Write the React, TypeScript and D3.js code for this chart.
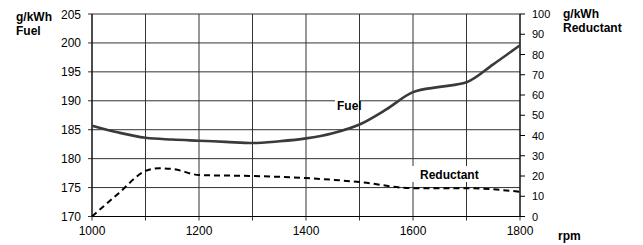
import React from "react";
import * as d3 from "d3";

const rpm = [1000, 1050, 1100, 1150, 1200, 1250, 1300, 1350, 1400, 1450, 1500, 1550, 1600, 1650, 1700, 1750, 1800];
const fuel = [185.7, 184.5, 183.6, 183.3, 183.1, 182.9, 182.7, 183.0, 183.5, 184.4, 185.9, 188.5, 191.5, 192.4, 193.2, 196.3, 199.6];
const redRpm = [1000, 1050, 1100, 1125, 1150, 1200, 1300, 1400, 1500, 1600, 1700, 1800];
const reductant = [0, 11.5, 22.5, 23.8, 23.5, 20.5, 20, 19, 17, 14, 14, 12.2];
const xTicks = [1000, 1200, 1400, 1600, 1800];
const xGrid = [1000, 1100, 1200, 1300, 1400, 1500, 1600, 1700, 1800];
const leftTicks = [170, 175, 180, 185, 190, 195, 200, 205];
const rightTicks = [0, 10, 20, 30, 40, 50, 60, 70, 80, 90, 100];

export default function App() {
  const x = d3.scaleLinear().domain([1000, 1800]).range([92, 520]);
  const yL = d3.scaleLinear().domain([170, 205]).range([216.5, 14]);
  const yR = d3.scaleLinear().domain([0, 100]).range([216.5, 14]);
  const fuelLine = d3
    .line<number>()
    .x((_, i) => x(rpm[i]))
    .y((d) => yL(d))
    .curve(d3.curveMonotoneX);
  const redLine = d3
    .line<number>()
    .x((_, i) => x(redRpm[i]))
    .y((d) => yR(d))
    .curve(d3.curveMonotoneX);
  const font = "Arial, 'Liberation Sans', sans-serif";
  return (
    <svg width={643} height={245} style={{ position: "absolute", left: 0, top: 0, fontFamily: font }}>
      <rect width={643} height={245} fill="#fff" />
      {leftTicks.map((t) => (
        <line key={"h" + t} x1={88} x2={520} y1={yL(t)} y2={yL(t)} stroke="#333" strokeWidth={1} />
      ))}
      {xGrid.map((t) => (
        <line key={"v" + t} x1={x(t)} x2={x(t)} y1={14} y2={220.5} stroke="#333" strokeWidth={1} />
      ))}
      {rightTicks.map((t) => (
        <line key={"r" + t} x1={520} x2={525} y1={yR(t)} y2={yR(t)} stroke="#000" strokeWidth={1} />
      ))}
      <line x1={92} x2={92} y1={14} y2={216.5} stroke="#000" />
      <line x1={520} x2={520} y1={14} y2={216.5} stroke="#000" />
      <line x1={92} x2={520} y1={216.5} y2={216.5} stroke="#000" />
      {leftTicks.map((t) => (
        <text key={"lt" + t} x={81} y={yL(t) + 4.5} textAnchor="end" fontSize={12} fill="#000">
          {t}
        </text>
      ))}
      {rightTicks.map((t) => (
        <text key={"rt" + t} x={532} y={yR(t) + 4} fontSize={11} fill="#000">
          {t}
        </text>
      ))}
      {xTicks.map((t) => (
        <text key={"xt" + t} x={x(t)} y={235} textAnchor="middle" fontSize={12} fill="#000">
          {t}
        </text>
      ))}
      <path d={fuelLine(fuel) || ""} fill="none" stroke="#3a3a3a" strokeWidth={2.6} />
      <path d={redLine(reductant) || ""} fill="none" stroke="#000" strokeWidth={2} strokeDasharray="6,4" />
      <rect x={335} y={99} width={24} height={13} fill="#fff" />
      <text x={337} y={110} fontSize={12} fontWeight="bold" fill="#000">Fuel</text>
      <rect x={410} y={166} width={74} height={16} fill="#fff" />
      <text x={420} y={179} fontSize={12} fontWeight="bold" fill="#000">Reductant</text>
      <text x={16} y={21} fontSize={12} fontWeight="bold">g/kWh</text>
      <text x={16} y={35} fontSize={12} fontWeight="bold">Fuel</text>
      <text x={563} y={18} fontSize={12} fontWeight="bold">g/kWh</text>
      <text x={563} y={32} fontSize={12} fontWeight="bold">Reductant</text>
      <text x={558} y={240} fontSize={12} fontWeight="bold">rpm</text>
    </svg>
  );
}
